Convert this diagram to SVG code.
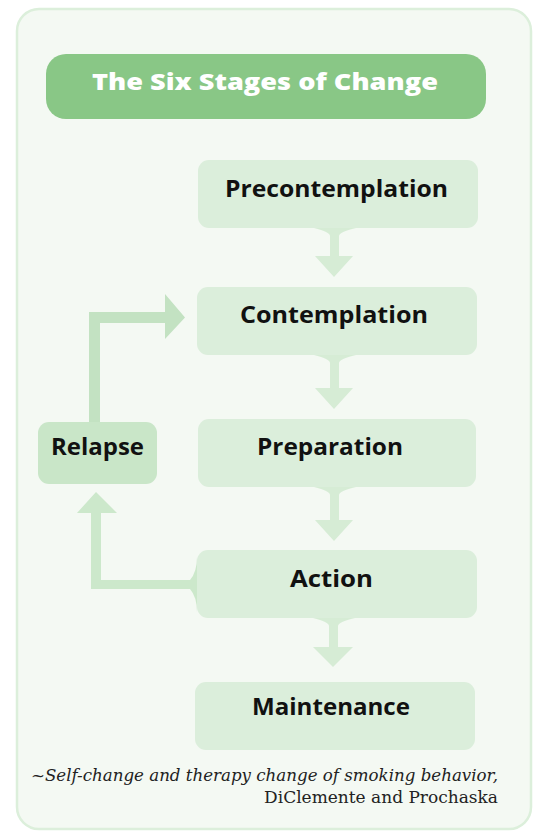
<svg xmlns="http://www.w3.org/2000/svg" width="536" height="835" viewBox="0 0 536 835">
<defs>
<style>
.panel{fill:#f4f9f3;stroke:#dcefdb;stroke-width:2.5}
.title{fill:#89c786}
.stage{fill:#dbeedb}
.relapse{fill:#c9e6c8}
.lbl{font-family:"Open Sans",Lato,"Liberation Sans",sans-serif;font-weight:bold;font-size:23.5px;fill:#111;text-anchor:middle}
.ttl{font-family:"Open Sans",Lato,"Liberation Sans",sans-serif;font-weight:800;font-size:22px;fill:#fff;text-anchor:middle}
.cite{font-family:"DejaVu Serif","Liberation Serif",serif;font-size:17px;fill:#222;text-anchor:end}
.down{fill:#d6ecd5}
.loop1{fill:#c3e2c2}
.loop2{fill:#cce8cb}
</style>
</defs>
<rect class="panel" x="17" y="9" width="514" height="820" rx="22"/>
<g id="title">
<rect class="title" x="46" y="54" width="440" height="65" rx="20"/>
<text class="ttl" x="265" y="90" textLength="346" lengthAdjust="spacingAndGlyphs">The Six Stages of Change</text>
</g>
<g id="connectors">
<path class="down" d="M314,228 Q330,232 330,236 L330,256 L315,256 L334,277 L353,256 L339,256 L339,236 Q339,232 356,228 Z"/>
<path class="down" d="M314,355 Q330,359 330,363 L330,388 L315,388 L334,409 L353,388 L339,388 L339,363 Q339,359 356,355 Z"/>
<path class="down" d="M314,487 Q330,491 330,495 L330,520 L315,520 L334,541 L353,520 L339,520 L339,495 Q339,491 356,487 Z"/>
<path class="down" d="M313,618 Q329,622 329,626 L329,647 L313,647 L333,667 L353,647 L338,647 L338,626 Q338,622 355,618 Z"/>
<path class="loop1" d="M89,422 L89,312 L165,312 L165,294 L185,317.5 L165,339 L165,323 L100,323 L100,422 Z"/>
<path class="loop2" d="M193,580 L101,580 L101,513 L117,513 L96,492 L77,513 L91,513 L91,589 L193,589 Z"/>
<path class="loop2" d="M197,557 Q197,572 190,580 L190,589 Q197,597 197,612 Z"/>
</g>
<g id="precontemplation">
<rect class="stage" x="198" y="160" width="280" height="68" rx="11"/>
<text class="lbl" x="336.5" y="197" textLength="223" lengthAdjust="spacingAndGlyphs">Precontemplation</text>
</g>
<g id="contemplation">
<rect class="stage" x="197" y="287" width="280" height="68" rx="11"/>
<text class="lbl" x="334" y="323" textLength="188" lengthAdjust="spacingAndGlyphs">Contemplation</text>
</g>
<g id="preparation">
<rect class="stage" x="198" y="419" width="278" height="68" rx="11"/>
<text class="lbl" x="330" y="455" textLength="146" lengthAdjust="spacingAndGlyphs">Preparation</text>
</g>
<g id="action">
<rect class="stage" x="197" y="550" width="280" height="68" rx="11"/>
<text class="lbl" x="331.5" y="587" textLength="83" lengthAdjust="spacingAndGlyphs">Action</text>
</g>
<g id="maintenance">
<rect class="stage" x="195" y="682" width="280" height="68" rx="11"/>
<text class="lbl" x="331" y="715" textLength="158" lengthAdjust="spacingAndGlyphs">Maintenance</text>
</g>
<g id="relapse">
<rect class="relapse" x="38" y="422" width="119" height="62" rx="11"/>
<text class="lbl" x="97.5" y="455" textLength="93" lengthAdjust="spacingAndGlyphs">Relapse</text>
</g>
<g id="citation">
<text class="cite" x="498" y="781" font-style="italic" textLength="467" lengthAdjust="spacingAndGlyphs">~Self-change and therapy change of smoking behavior,</text>
<text class="cite" x="498" y="803">DiClemente and Prochaska</text>
</g>
</svg>
